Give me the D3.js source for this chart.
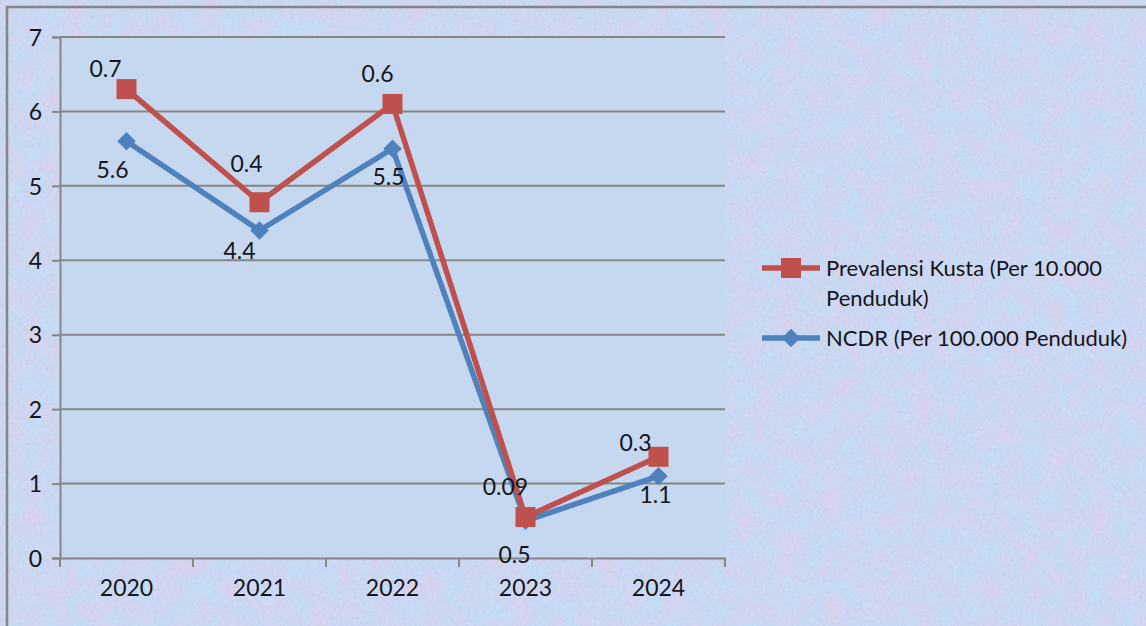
<!DOCTYPE html>
<html>
<head>
<meta charset="utf-8">
<script src="https://cdn.jsdelivr.net/npm/d3@7"></script>
<style>
  html, body { margin: 0; padding: 0; background: #fff; }
  svg { display: block; }
  text { font-family: Lato, "Open Sans", sans-serif; fill: #151520; }
</style>
</head>
<body>
<div id="chart"></div>
<script>
// Kasus kusta per tahun
const years = ["2020", "2021", "2022", "2023", "2024"];
const prevalensiValues = [6.3, 4.78, 6.1, 0.55, 1.36];
const prevalensiLabels = ["0.7", "0.4", "0.6", "0.09", "0.3"];
const ncdrValues = [5.6, 4.4, 5.5, 0.5, 1.1];
const ncdrLabels = ["5.6", "4.4", "5.5", "0.5", "1.1"];
const yTicks = [0, 1, 2, 3, 4, 5, 6, 7];
const legendLines = [["Prevalensi Kusta (Per 10.000", "Penduduk)"], ["NCDR (Per 100.000 Penduduk)"]];

const W = 1146, H = 626;
const plot = { left: 60, right: 725, top: 37, bottom: 558 };
const FONT = "Lato, 'Open Sans', sans-serif";

// label offsets relative to each marker (layout only)
const redLabelOffset = [[-21, -12], [-13, -30], [-15, -22], [-20, -22], [-23, -6]];
const blueLabelOffset = [[-14, 37], [-20, 28], [-4, 36], [-11, 42], [-3, 27]];

const svg = d3.select("#chart").append("svg")
  .attr("width", W).attr("height", H);

const defs = svg.append("defs");
function noiseFilter(id, freq, octaves, seed, matrix) {
  const f = defs.append("filter").attr("id", id)
    .attr("color-interpolation-filters", "sRGB")
    .attr("x", 0).attr("y", 0).attr("width", "100%").attr("height", "100%");
  f.append("feTurbulence").attr("type", "fractalNoise")
    .attr("baseFrequency", freq).attr("numOctaves", octaves).attr("seed", seed).attr("result", "n");
  f.append("feColorMatrix").attr("in", "n").attr("type", "matrix").attr("values", matrix);
}
// pink mottling, cyan mottling and a fine grain
noiseFilter("pink", 0.045, 3, 4, "0 0 0 0 0.90  0 0 0 0 0.81  0 0 0 0 0.93  2.0 0 0 0 -0.75");
noiseFilter("cyan", 0.05, 3, 19, "0 0 0 0 0.76  0 0 0 0 0.89  0 0 0 0 0.97  2.0 0 0 0 -0.75");
noiseFilter("grain", 0.35, 2, 3, "0 0 0 0 0.70  0 0 0 0 0.75  0 0 0 0 0.88  0 0 0 1.2 -0.45");

svg.append("rect").attr("width", W).attr("height", H).attr("fill", "#cbd9f3");
svg.append("rect").attr("width", W).attr("height", H).attr("filter", "url(#cyan)").attr("opacity", 0.7);
svg.append("rect").attr("width", W).attr("height", H).attr("filter", "url(#pink)").attr("opacity", 0.6);
svg.append("rect").attr("width", W).attr("height", H).attr("filter", "url(#grain)").attr("opacity", 0.45);

// outer frame
svg.append("path").attr("d", `M7,${H} V7 H${W}`)
  .attr("fill", "none").attr("stroke", "#858585").attr("stroke-width", 2.5);

const x = d3.scaleBand().domain(years).range([plot.left, plot.right]).padding(0);
const y = d3.scaleLinear().domain([0, 7]).range([plot.bottom, plot.top]);
const cx = d => x(d) + x.bandwidth() / 2;

// plot area
svg.append("rect")
  .attr("x", plot.left).attr("y", plot.top)
  .attr("width", plot.right - plot.left).attr("height", plot.bottom - plot.top)
  .attr("fill", "#c5d8ef");

// gridlines
svg.append("g").selectAll("line").data(yTicks.filter(t => t > 0)).join("line")
  .attr("x1", plot.left).attr("x2", plot.right)
  .attr("y1", d => y(d)).attr("y2", d => y(d))
  .attr("stroke", "#868686").attr("stroke-width", 2);

// y axis
const yAxis = svg.append("g").attr("transform", `translate(${plot.left},0)`)
  .call(d3.axisLeft(y).tickValues(yTicks).tickSize(8).tickPadding(10).tickFormat(d3.format("d")));
yAxis.attr("font-size", 23).attr("font-family", FONT);
yAxis.select(".domain").attr("stroke", "#868686").attr("stroke-width", 2);
yAxis.selectAll(".tick line").attr("stroke", "#868686").attr("stroke-width", 2);
yAxis.selectAll(".tick text").attr("dy", "0.36em").attr("fill", "#151520");

// x axis with ticks at band edges
const xAxis = svg.append("g").attr("transform", `translate(0,${plot.bottom})`)
  .call(d3.axisBottom(x).tickSize(0).tickPadding(22));
xAxis.attr("font-size", 23).attr("font-family", FONT);
xAxis.select(".domain").attr("stroke", "#868686").attr("stroke-width", 2);
xAxis.selectAll(".tick text").attr("fill", "#151520");
const edges = years.map(d => x(d)).concat([plot.right]);
svg.append("g").selectAll("line").data(edges).join("line")
  .attr("x1", d => d).attr("x2", d => d)
  .attr("y1", plot.bottom).attr("y2", plot.bottom + 9)
  .attr("stroke", "#868686").attr("stroke-width", 2);

const line = d3.line().x((d, i) => cx(years[i])).y(d => y(d));
const blue = "#4f81bd", red = "#c0504d";
const diamond = d3.symbol(d3.symbolSquare, 170)();

// NCDR series
svg.append("path").datum(ncdrValues).attr("d", line)
  .attr("fill", "none").attr("stroke", blue).attr("stroke-width", 5.5)
  .attr("stroke-linejoin", "round");
svg.append("g").selectAll("path").data(ncdrValues).join("path")
  .attr("d", diamond)
  .attr("transform", (d, i) => `translate(${cx(years[i])},${y(d)}) rotate(45)`)
  .attr("fill", blue);

// Prevalensi series
svg.append("path").datum(prevalensiValues).attr("d", line)
  .attr("fill", "none").attr("stroke", red).attr("stroke-width", 5.5)
  .attr("stroke-linejoin", "round");
svg.append("g").selectAll("rect").data(prevalensiValues).join("rect")
  .attr("x", (d, i) => cx(years[i]) - 10).attr("y", d => y(d) - 10)
  .attr("width", 20).attr("height", 20).attr("fill", red);

// data labels
svg.append("g").selectAll("text").data(prevalensiLabels).join("text")
  .attr("x", (d, i) => cx(years[i]) + redLabelOffset[i][0])
  .attr("y", (d, i) => y(prevalensiValues[i]) + redLabelOffset[i][1])
  .attr("text-anchor", "middle").attr("font-size", 23).text(d => d);
svg.append("g").selectAll("text").data(ncdrLabels).join("text")
  .attr("x", (d, i) => cx(years[i]) + blueLabelOffset[i][0])
  .attr("y", (d, i) => y(ncdrValues[i]) + blueLabelOffset[i][1])
  .attr("text-anchor", "middle").attr("font-size", 23).text(d => d);

// legend
const lg = svg.append("g");
const legendRows = [
  { color: red, shape: "square", y: 268 },
  { color: blue, shape: "diamond", y: 338 }
];
legendRows.forEach((r, k) => {
  lg.append("line").attr("x1", 762).attr("x2", 820).attr("y1", r.y).attr("y2", r.y)
    .attr("stroke", r.color).attr("stroke-width", 5.5);
  if (r.shape === "square") {
    lg.append("rect").attr("x", 781).attr("y", r.y - 10).attr("width", 20).attr("height", 20).attr("fill", r.color);
  } else {
    lg.append("path").attr("d", diamond)
      .attr("transform", `translate(791,${r.y}) rotate(45)`).attr("fill", r.color);
  }
  legendLines[k].forEach((t, j) => {
    lg.append("text").attr("x", 826).attr("y", r.y + 8 + j * 30)
      .attr("font-size", 22).text(t);
  });
});
</script>
</body>
</html>
